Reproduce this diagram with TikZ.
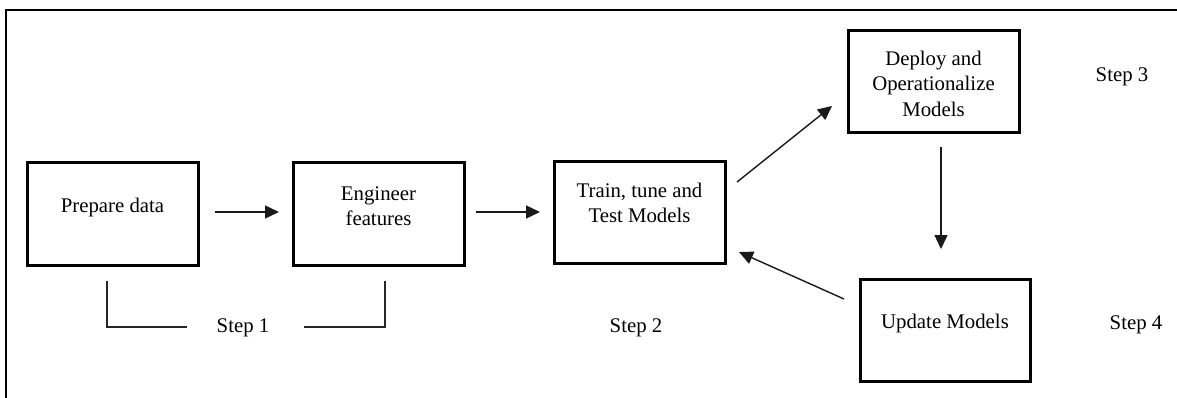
\documentclass[tikz,border=0pt]{standalone}
\usepackage{fontspec}
\setmainfont{Liberation Serif}
\usetikzlibrary{arrows.meta,calc}
\begin{document}
\begin{tikzpicture}[x=1pt,y=-1pt,
  font=\fontsize{20.8}{25.5}\selectfont,
  stepbox/.style={draw=black,line width=3pt,fill=white,inner sep=0pt},
  lbl/.style={align=center,inner sep=0pt},
  conn/.style={line width=1.4pt,draw=black!90,-{Triangle[length=14pt,width=13pt]}},
  brace/.style={line width=1.3pt,draw=black!85},
  steplbl/.style={inner sep=0pt}]
  \useasboundingbox[fill=white] (0,0) rectangle (1177,398);

  % outer frame, running off the right and bottom edges
  \begin{scope}
    \clip (0,0) rectangle (1177,398);
    \draw[line width=2.5pt] (6,420) -- (6,10) -- (1200,10);
  \end{scope}

  % process boxes
  \node[stepbox,minimum width=171pt,minimum height=102pt] (prep)   at (112.5,214) {};
  \node[stepbox,minimum width=171pt,minimum height=102pt] (eng)    at (378.5,214) {};
  \node[stepbox,minimum width=171pt,minimum height=101pt] (train)  at (639.5,212.5) {};
  \node[stepbox,minimum width=171pt,minimum height=102pt] (deploy) at (933.5,82) {};
  \node[stepbox,minimum width=170pt,minimum height=102pt] (update) at (945,330) {};

  % box texts
  \node[lbl] (tprep)   at (112.5,207) {Prepare data};
  \node[lbl] (teng)    at (378.5,206) {Engineer\\features};
  \node[lbl] (ttrain)  at (639.5,203) {Train, tune and\\Test Models};
  \node[lbl] (tdeploy) at (933.5,83.5) {Deploy and\\Operationalize\\Models};
  \node[lbl] (tupdate) at (945,323) {Update Models};

  % free ends of the connectors
  \coordinate (a1s) at (215,212);  \coordinate (a1e) at (279,212);
  \coordinate (a2s) at (476,212);  \coordinate (a2e) at (540,212);
  \coordinate (a3s) at (737,182);  \coordinate (a3e) at (832,106);
  \coordinate (a4s) at (941,147);  \coordinate (a4e) at (941,249);
  \coordinate (a5s) at (844,299);  \coordinate (a5e) at (739,252);

  \draw[conn] (a1s) -- (a1e);
  \draw[conn] (a2s) -- (a2e);
  \draw[conn] (a3s) -- (a3e);
  \draw[conn] (a4s) -- (a4e);
  \draw[conn] (a5s) -- (a5e);

  % step labels
  \node[steplbl] (s1) at (243,328) {Step 1};
  \node[steplbl] (s2) at (636,328) {Step 2};
  \node[steplbl] (s3) at (1122,77) {Step 3};
  \node[steplbl] (s4) at (1136,325) {Step 4};

  % bracket grouping the first two boxes under Step 1
  \coordinate (b1) at (107,281);  \coordinate (b2) at (187,327);
  \coordinate (b3) at (304,327);  \coordinate (b4) at (385,281);
  \draw[brace] (b1) |- (b2);
  \draw[brace] (b3) -| (b4);
\end{tikzpicture}
\end{document}
